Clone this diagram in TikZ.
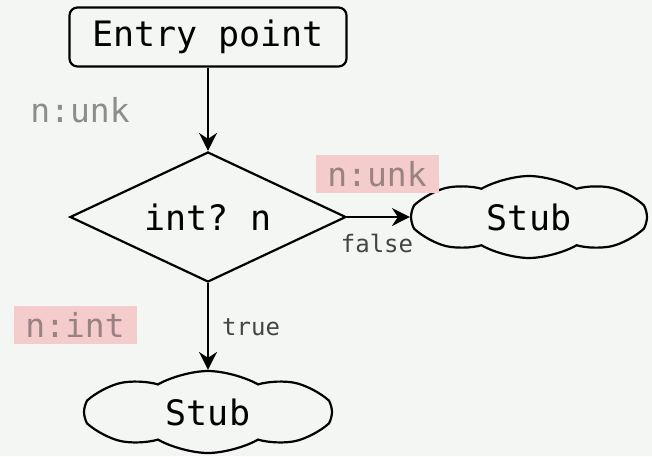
\documentclass[tikz,border=0pt]{standalone}
\usepackage{fontspec}
\setmonofont{DejaVu Sans Mono}
\usetikzlibrary{shapes.geometric,shapes.symbols,arrows.meta}
\definecolor{bgcol}{HTML}{F4F6F3}
\definecolor{tagfill}{HTML}{F4CCCC}
\definecolor{tagtext}{HTML}{9A8282}
\definecolor{plaintag}{HTML}{8C8C8C}
\definecolor{edgetext}{HTML}{444444}
\tikzset{
  x=1pt, y=-1pt,
  every node/.style={font=\ttfamily\fontsize{35}{40}\selectfont},
  flow/.style={line width=2.2pt, -{Stealth[length=18pt,width=18pt,inset=6pt]}},
  entrybox/.style={draw, line width=2.2pt, rounded corners=8pt, minimum width=277pt, minimum height=59pt, inner sep=0pt},
  decision/.style={draw, diamond, line width=2.2pt, minimum width=276pt, minimum height=130pt, aspect=2.12, inner sep=0pt},
  stub/.style={draw, cloud, cloud puffs=8, cloud puff arc=60, aspect=2.9, line width=2.2pt, minimum width=236pt, minimum height=82pt, inner sep=0pt},
  tag/.style={fill=tagfill, text=tagtext, font=\ttfamily\fontsize{33}{38}\selectfont, minimum width=123pt, minimum height=38pt, inner sep=0pt},
  note/.style={text=plaintag, font=\ttfamily\fontsize{33}{38}\selectfont, inner sep=0pt},
  edgelabel/.style={text=edgetext, font=\ttfamily\fontsize{24}{28}\selectfont, inner sep=0pt},
}
\begin{document}
\begin{tikzpicture}
  \fill[bgcol] (0,0) rectangle (652,456);
  \useasboundingbox (0,0) rectangle (652,456);

  \node[entrybox] (entry) at (208,37) {Entry point};
  \node[decision] (test) at (208,217) {int? n};
  \node[stub] (stubR) at (529,217) {Stub};
  \node[stub, minimum width=248pt] (stubB) at (208,412) {Stub};

  \node[note] (unk0) at (80,110) {n:unk};
  \node[tag] (unk1) at (377,174) {n:unk};
  \node[tag] (int1) at (75,325) {n:int};

  \draw[flow] (entry.south) -- (test.north);
  \draw[flow] (test.east) -- (stubR.west);
  \draw[flow] (test.south) -- (stubB.north);

  \node[edgelabel] (lfalse) at (377,243) {false};
  \node[edgelabel, anchor=west] (ltrue) at (222,327) {true};
\end{tikzpicture}
\end{document}
